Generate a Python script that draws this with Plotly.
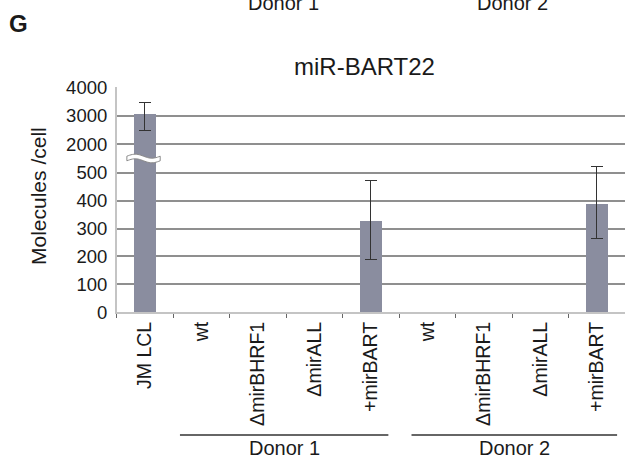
import math
import plotly.graph_objects as go

# ---------------- data ----------------
categories = ["JM LCL", "wt", "\u0394mirBHRF1", "\u0394mirALL", "+mirBART",
              "wt ", "\u0394mirBHRF1 ", "\u0394mirALL ", "+mirBART "]
tick_text = ["JM LCL", "wt", "\u0394mirBHRF1", "\u0394mirALL", "+mirBART",
             "wt", "\u0394mirBHRF1", "\u0394mirALL", "+mirBART"]
values = [3050, 0, 0, 0, 330, 0, 0, 0, 390]
err_upper = [3470, 0, 0, 0, 473, 0, 0, 0, 521]
err_lower = [2480, 0, 0, 0, 190, 0, 0, 0, 263]
low_ticks = [0, 100, 200, 300, 400, 500]
high_ticks = [2000, 3000, 4000]
low_range = [0, 551]
high_range = [1500, 4000]
groups = ["Donor 1", "Donor 2"]
group_spans = [(0.62, 4.31), (4.72, 8.36)]

# ---------------- layout geometry ----------------
W, H = 625, 461
def py(p):
    return 1 - p / H

x_dom = [116.7 / W, 1.0]
y_low_dom = [py(312.3), py(158.5)]
y_high_dom = [py(158.5), py(87.3)]

BAR = "#8a8d9f"
GRID = "#8f8f8f"
AXL = "#c4c4c4"
TXT = "#1a1a1a"
FONT = "Arial, Liberation Sans, sans-serif"

def nz(v):
    return v if v else None

# bottom (0-551) trace
low_y = [nz(v) for v in values]
low_plus = [(u - v) if (v and v <= low_range[1]) else None for v, u in zip(values, err_upper)]
low_minus = [(v - l) if (v and v <= low_range[1]) else None for v, l in zip(values, err_lower)]
# top (1500-4000) trace
high_y = [v if v > low_range[1] else None for v in values]
high_plus = [(u - v) if v > low_range[1] else None for v, u in zip(values, err_upper)]
high_minus = [(v - l) if v > low_range[1] else None for v, l in zip(values, err_lower)]

err_style = dict(type="data", symmetric=False, color="#333333", thickness=1, width=6)

fig = go.Figure()
fig.add_trace(go.Bar(
    x=categories, y=low_y, width=0.39, marker=dict(color=BAR, line=dict(width=0)),
    error_y=dict(array=low_plus, arrayminus=low_minus, **err_style),
    xaxis="x", yaxis="y", showlegend=False))
fig.add_trace(go.Bar(
    x=categories, y=high_y, width=0.39, marker=dict(color=BAR, line=dict(width=0)),
    error_y=dict(array=high_plus, arrayminus=high_minus, **err_style),
    xaxis="x", yaxis="y2", showlegend=False))

axis_font = dict(family=FONT, size=18.5, color=TXT)

fig.update_layout(
    width=W, height=H,
    margin=dict(l=0, r=0, t=0, b=0, autoexpand=False),
    paper_bgcolor="white", plot_bgcolor="white",
    bargap=0,
    xaxis=dict(domain=x_dom, anchor="y", type="category",
               categoryorder="array", categoryarray=categories,
               tickvals=categories, ticktext=tick_text,
               range=[-0.5, 8.5],
               tickangle=-90, tickfont=dict(family=FONT, size=19.5, color=TXT),
               showline=True, linecolor=AXL, linewidth=1.5,
               ticks="outside", tickson="boundaries", ticklen=4,
               tickcolor="#666666", tickwidth=1,
               showgrid=False, zeroline=False, automargin=False),
    yaxis=dict(domain=y_low_dom, anchor="x", range=low_range,
               tickvals=low_ticks, ticktext=[str(t) for t in low_ticks],
               tickfont=axis_font, ticks="", ticklabelstandoff=4,
               showline=True, linecolor=AXL, linewidth=1.5,
               showgrid=True, gridcolor=GRID, gridwidth=1.5, zeroline=False,
               automargin=False),
    yaxis2=dict(domain=y_high_dom, anchor="x", range=high_range,
                tickvals=high_ticks, ticktext=[str(t) for t in high_ticks],
                tickfont=axis_font, ticks="", ticklabelstandoff=4,
                showline=True, linecolor=AXL, linewidth=1.5,
                showgrid=True, gridcolor=GRID, gridwidth=1.5, zeroline=False,
                automargin=False),
)

# ---------------- break symbol on the JM LCL bar ----------------
yb = py(158.5)
amp = 2.0 / H
half = 2.3 / H
x0, x1 = -0.32, 0.27
n = 24
xs = [x0 + (x1 - x0) * i / n for i in range(n + 1)]
up = [(x, yb + half + amp * math.sin(2 * math.pi * (x - x0) / (x1 - x0))) for x in xs]
dn = [(x, yb - half + amp * math.sin(2 * math.pi * (x - x0) / (x1 - x0))) for x in xs]
path = "M " + " L ".join(f"{x:.4f},{y:.5f}" for x, y in up)
path += " L " + " L ".join(f"{x:.4f},{y:.5f}" for x, y in reversed(dn)) + " Z"
fig.add_shape(type="path", path=path, xref="x", yref="paper",
              fillcolor="white", line=dict(color="#8a8a8a", width=1))

# ---------------- donor group lines ----------------
line_y = py(435)
for (a, b) in group_spans:
    fig.add_shape(type="line", xref="x", yref="paper", x0=a, x1=b, y0=line_y, y1=line_y,
                  line=dict(color="#333333", width=1.5))
for g, (a, b) in zip(groups, group_spans):
    fig.add_annotation(text=g, xref="x", yref="paper", x=(a + b) / 2, y=py(448),
                       xanchor="center", yanchor="middle", showarrow=False,
                       font=dict(family=FONT, size=20, color=TXT))

# ---------------- texts ----------------
fig.add_annotation(text="miR-BART22", xref="paper", yref="paper", x=364 / W, y=py(67),
                   xanchor="center", yanchor="middle", showarrow=False,
                   font=dict(family=FONT, size=24, color=TXT))
fig.add_annotation(text="Molecules /cell", xref="paper", yref="paper", x=38 / W, y=py(196),
                   xanchor="center", yanchor="middle", textangle=-90, showarrow=False,
                   font=dict(family=FONT, size=21, color=TXT))
fig.add_annotation(text="<b>G</b>", xref="paper", yref="paper", x=18 / W, y=py(23),
                   xanchor="center", yanchor="middle", showarrow=False,
                   font=dict(family=FONT, size=24, color=TXT))
# remnants of the panel above (cut off at the top edge, as in the reference)
for g, cx in zip(groups, [283, 512]):
    fig.add_annotation(text=g, xref="paper", yref="paper", x=cx / W, y=py(3),
                       xanchor="center", yanchor="middle", showarrow=False,
                       font=dict(family=FONT, size=20, color=TXT))

# the page's default body margin would offset the figure by 8px
fig.write_html("out.html", config={"displayModeBar": False},
               post_script="document.body.style.margin='0px';document.body.style.overflow='hidden';")
